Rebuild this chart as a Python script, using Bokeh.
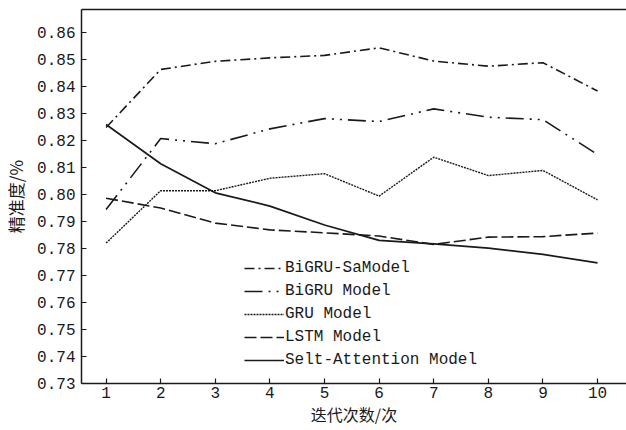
from bokeh.plotting import figure
from bokeh.models import Range1d, LinearAxis, Legend, LegendItem, FixedTicker
from bokeh.embed import file_html
from bokeh.resources import INLINE

iterations = [1, 2, 3, 4, 5, 6, 7, 8, 9, 10]
bigru_sa = [0.8248, 0.8463, 0.8493, 0.8506, 0.8515, 0.8543, 0.8494, 0.8475, 0.8488, 0.8383]
bigru = [0.7944, 0.8207, 0.8188, 0.8243, 0.8281, 0.8270, 0.8317, 0.8286, 0.8277, 0.8148]
gru = [0.7820, 0.8014, 0.8014, 0.8060, 0.8077, 0.7994, 0.8138, 0.8070, 0.8089, 0.7980]
lstm = [0.7986, 0.7950, 0.7894, 0.7869, 0.7858, 0.7846, 0.7815, 0.7842, 0.7844, 0.7857]
self_att = [0.8259, 0.8114, 0.8006, 0.7957, 0.7887, 0.7830, 0.7817, 0.7801, 0.7778, 0.7747]
series_names = ["BiGRU-SaModel", "BiGRU Model", "GRU Model", "LSTM Model", "Selt-Attention Model"]
y_ticks = [0.73, 0.74, 0.75, 0.76, 0.77, 0.78, 0.79, 0.80, 0.81, 0.82, 0.83, 0.84, 0.85, 0.86]

MONO = "Liberation Mono"
CJK = "Noto Sans CJK SC"
INK = "#1a1a1a"

p = figure(width=626, height=430, output_backend="svg", toolbar_location=None,
           x_range=Range1d(0.55, 10.53), y_range=Range1d(0.73, 0.8685),
           min_border_left=80, min_border_right=0, min_border_top=9, min_border_bottom=47)
p.outline_line_color = None
p.xgrid.visible = False
p.ygrid.visible = False
p.background_fill_color = "white"
p.border_fill_color = "white"

series = [bigru_sa, bigru, gru, lstm, self_att]
dashes = ["10 4 2 4", "18 6 2 6 2 6", "2 1", "12 4", "solid"]
widths = [1.6, 1.6, 1.4, 1.6, 1.7]
renderers = []
for ys, d, w in zip(series, dashes, widths):
    r = p.line(iterations, ys, line_color=INK, line_width=w, line_dash=d)
    renderers.append(r)

legend = Legend(items=[LegendItem(label=n, renderers=[r]) for n, r in zip(series_names, renderers)],
                location=(163, 13), padding=0, margin=0, spacing=3,
                glyph_width=40, glyph_height=20, label_height=20, label_standoff=1,
                label_text_font=MONO, label_text_font_size="16px", label_text_color=INK,
                border_line_color=None, background_fill_alpha=0)
p.add_layout(legend)

for ax in (p.xaxis[0], p.yaxis[0]):
    ax.axis_line_color = INK
    ax.axis_line_width = 1.5
    ax.major_tick_line_color = INK
    ax.major_tick_line_width = 1.2
    ax.major_tick_in = 5
    ax.major_tick_out = 0
    ax.minor_tick_line_color = None
    ax.major_label_text_font = MONO
    ax.major_label_text_font_size = "16px"
    ax.major_label_text_color = INK
    ax.axis_label_text_font = CJK
    ax.axis_label_text_font_size = "17px"
    ax.axis_label_text_font_style = "normal"
    ax.axis_label_text_color = INK

p.xaxis.ticker = FixedTicker(ticks=iterations)
p.yaxis.ticker = FixedTicker(ticks=y_ticks)
p.yaxis.major_label_overrides = {t: f"{t:.2f}" for t in y_ticks}
p.xaxis.axis_label = "迭代次数/次"
p.yaxis.axis_label = "精准度/%"
p.xaxis.axis_label_text_font_size = "16px"
p.xaxis.major_label_standoff = 3
p.yaxis.major_label_standoff = 6
p.xaxis.axis_label_standoff = 1
p.yaxis.axis_label_standoff = 6

top = LinearAxis(ticker=FixedTicker(ticks=[]), major_tick_line_color=None,
                 minor_tick_line_color=None, major_label_standoff=0,
                 axis_line_color=INK, axis_line_width=1.5)
p.add_layout(top, "above")

open("out.html", "w").write(file_html(p, INLINE))
